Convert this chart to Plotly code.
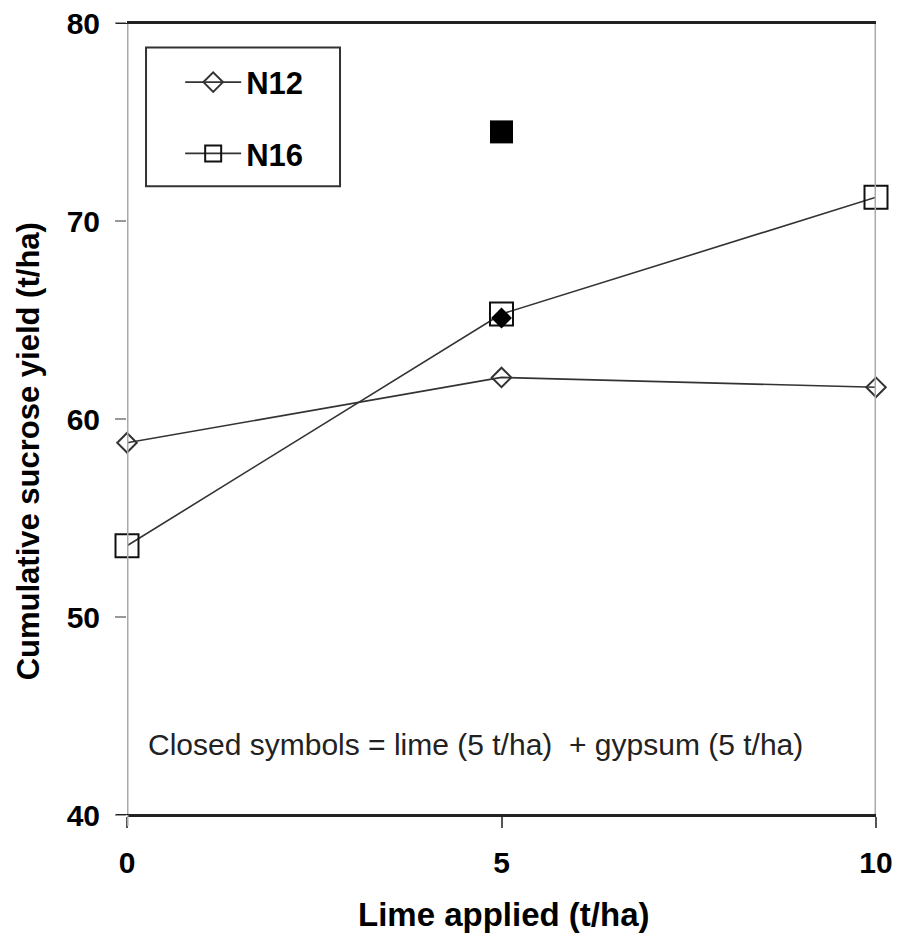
import plotly.graph_objects as go

lime = [0, 5, 10]
n12 = [58.8, 62.1, 61.6]
n16 = [53.6, 65.3, 71.2]
closed_x = [5]
closed_n12 = [65.1]
closed_n16 = [74.5]
x_ticks = [0, 5, 10]
y_ticks = [40, 50, 60, 70, 80]

FONT = "Liberation Sans, Arial, sans-serif"

fig = go.Figure()
fig.add_trace(go.Scatter(
    x=lime, y=n12, mode="lines+markers", name="N12",
    line=dict(color="#333333", width=1.6),
    marker=dict(symbol="diamond-open", size=15, color="#333333", line=dict(width=2, color="#333333")),
    cliponaxis=False, legendgroup="a"))
fig.add_trace(go.Scatter(
    x=lime, y=n16, mode="lines+markers", name="N16",
    line=dict(color="#333333", width=1.6),
    marker=dict(symbol="square-open", size=23, color="#111111", line=dict(width=2, color="#111111")),
    cliponaxis=False, legendgroup="b"))
fig.add_trace(go.Scatter(
    x=closed_x, y=closed_n12, mode="markers", showlegend=False,
    marker=dict(symbol="diamond", size=16, color="#000000"), cliponaxis=False))
fig.add_trace(go.Scatter(
    x=closed_x, y=closed_n16, mode="markers", showlegend=False,
    marker=dict(symbol="square", size=23, color="#000000"), cliponaxis=False))

fig.update_layout(
    width=898, height=941,
    margin=dict(l=127, r=22, t=23, b=126, autoexpand=False),
    paper_bgcolor="white", plot_bgcolor="white",
    font=dict(family=FONT, color="#000000"),
    showlegend=True,
    legend=dict(x=0.071, y=0.959, xanchor="left", yanchor="top",
                font=dict(size=31, family=FONT, color="#000000", weight="bold"),
                bgcolor="rgba(0,0,0,0)", borderwidth=0, tracegroupgap=28, itemwidth=56),
    xaxis=dict(range=[0, 10], tickvals=x_ticks, ticktext=[str(v) for v in x_ticks],
               automargin=False,
               showgrid=False, zeroline=False, showline=True, linecolor="#222222", linewidth=2,
               mirror=True, ticks="outside", ticklen=11, tickcolor="#555555", tickwidth=2,
               ticklabelstandoff=9,
               tickfont=dict(size=30, family=FONT, color="#000000", weight="bold")),
    yaxis=dict(range=[40, 80], tickvals=y_ticks, ticktext=[str(v) for v in y_ticks],
               automargin=False,
               showgrid=False, zeroline=False, showline=False,
               ticks="outside", ticklen=11, tickcolor="#999999", tickwidth=2,
               ticklabelstandoff=9,
               tickfont=dict(size=30, family=FONT, color="#000000", weight="bold")),
    shapes=[
        dict(type="line", xref="x", yref="paper", x0=0, x1=0, y0=-0.014, y1=1, line=dict(color="#aaaaaa", width=3)),
        dict(type="line", xref="x", yref="paper", x0=10, x1=10, y0=0, y1=1, line=dict(color="#aaaaaa", width=3)),
        dict(type="line", xref="paper", yref="y", x0=-0.0147, x1=1, y0=80, y1=80, line=dict(color="#222222", width=2)),
        dict(type="line", xref="paper", yref="y", x0=-0.0147, x1=1, y0=40, y1=40, line=dict(color="#222222", width=2)),
        dict(type="rect", xref="paper", yref="paper", x0=0.0254, x1=0.2844, y0=0.794, y1=0.969,
             line=dict(color="#333333", width=2), fillcolor="rgba(0,0,0,0)"),
    ],
    annotations=[
        dict(text="Closed symbols = lime (5 t/ha)  + gypsum (5 t/ha)", xref="paper", yref="paper",
             x=0.0254, y=0.0896, xanchor="left", yanchor="middle", showarrow=False,
             font=dict(size=30, family=FONT, color="#222222")),
        dict(text="Lime applied (t/ha)", xref="paper", yref="paper",
             x=0.503, y=-0.126, xanchor="center", yanchor="middle", showarrow=False,
             font=dict(size=33, family=FONT, color="#000000", weight="bold")),
        dict(text="Cumulative sucrose yield (t/ha)", xref="paper", yref="paper",
             x=-0.131, y=0.459, xanchor="center", yanchor="middle", showarrow=False, textangle=-90,
             font=dict(size=31, family=FONT, color="#000000", weight="bold")),
    ],
)

fig.write_html("out.html")
